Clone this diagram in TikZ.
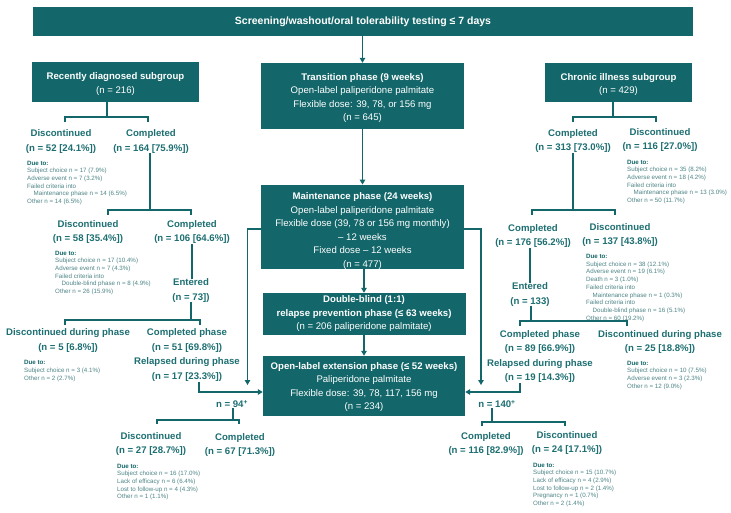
\documentclass[tikz,border=0pt]{standalone}
\usepackage{fontspec}
\setmainfont{Liberation Sans}
\usetikzlibrary{arrows.meta}
\definecolor{teal1}{HTML}{136669}
\definecolor{tealtxt}{HTML}{1D6F72}
\definecolor{duetxt}{HTML}{4F8587}
\newcommand\mydue{{\bfseries\color{teal1}Due to:}}
\begin{document}
\begin{tikzpicture}[x=1pt,y=-1pt,
  box/.style={fill=teal1,text=white,inner sep=0pt,align=center,font=\fontsize{9.6}{13.5}\selectfont},
  lbl/.style={text=tealtxt,inner sep=0pt,align=center,font=\bfseries\fontsize{9.6}{14.3}\selectfont},
  due/.style={text=duetxt,inner sep=0pt,align=left,anchor=north west,font=\fontsize{6.2}{7.6}\selectfont},
  conn/.style={draw=teal1,line width=1.2pt},
  arr/.style={conn,-{Triangle[length=5pt,width=5.5pt]}}]
\useasboundingbox[fill=white] (0,0) rectangle (731,513);

% boxes
\node[box,minimum width=660pt,minimum height=29pt,font=\bfseries\fontsize{10.5}{12}\selectfont] (top) at (363,21.5) {Screening/washout/oral tolerability testing ≤ 7 days};
\node[box,minimum width=167pt,minimum height=40pt] (rd) at (115.5,82) {\rule{0pt}{11pt}\textbf{Recently diagnosed subgroup}\\(n = 216)};
\node[box,minimum width=147pt,minimum height=39pt] (ci) at (618.5,82.5) {\rule{0pt}{10.5pt}\textbf{Chronic illness subgroup}\\(n = 429)};
\node[box,minimum width=203pt,minimum height=66pt] (tr) at (362.5,96) {\rule{0pt}{11pt}\textbf{Transition phase (9 weeks)}\\Open-label paliperidone palmitate\\Flexible dose: 39, 78, or 156 mg\\(n = 645)};
\node[box,minimum width=203pt,minimum height=84pt] (mt) at (362.5,227) {\rule{0pt}{15pt}\textbf{Maintenance phase (24 weeks)}\\Open-label paliperidone palmitate\\Flexible dose (39, 78 or 156 mg monthly)\\– 12 weeks\\Fixed dose – 12 weeks\\(n = 477)};
\node[box,minimum width=203pt,minimum height=42pt] (db) at (364,314) {\textbf{Double-blind (1:1)}\\\textbf{relapse prevention phase (≤ 63 weeks)}\\(n = 206 paliperidone palmitate)};
\node[box,minimum width=202pt,minimum height=60pt] (ole) at (364,386) {\rule{0pt}{9pt}\textbf{Open-label extension phase (≤ 52 weeks)}\\Paliperidone palmitate\\Flexible dose: 39, 78, 117, 156 mg\\(n = 234)};

% left labels
\node[lbl] (l1d) at (61,141.5) {Discontinued\\(n = 52 [24.1\%])};
\node[lbl] (l1c) at (151,141.5) {Completed\\(n = 164 [75.9\%])};
\node[lbl] (l2d) at (88,232) {Discontinued\\(n = 58 [35.4\%])};
\node[lbl] (l2c) at (192,232) {Completed\\(n = 106 [64.6\%])};
\node[lbl] (lent) at (191,290.5) {Entered\\(n = 73])};
\node[lbl] (l3d) at (68,340.5) {Discontinued during phase\\(n = 5 [6.8\%])};
\node[lbl,font=\bfseries\fontsize{9.6}{14.6}\selectfont] (l3c) at (187,355) {Completed phase\\(n = 51 [69.8\%])\\Relapsed during phase\\(n = 17 [23.3\%])};
\node[lbl] (n94) at (232,404) {n = 94\textsuperscript{+}};
\node[lbl] (l4d) at (151,444) {Discontinued\\(n = 27 [28.7\%])};
\node[lbl] (l4c) at (240,445) {Completed\\(n = 67 [71.3\%])};

% right labels
\node[lbl] (r1c) at (573,141) {Completed\\(n = 313 [73.0\%])};
\node[lbl] (r1d) at (660,140) {Discontinued\\(n = 116 [27.0\%])};
\node[lbl] (r2c) at (533,236) {Completed\\(n = 176 [56.2\%])};
\node[lbl] (r2d) at (620,235) {Discontinued\\(n = 137 [43.8\%])};
\node[lbl] (rent) at (530,294.5) {Entered\\(n = 133)};
\node[lbl,font=\bfseries\fontsize{9.6}{14.6}\selectfont] (r3c) at (540,356.5) {Completed phase\\(n = 89 [66.9\%])\\Relapsed during phase\\(n = 19 [14.3\%])};
\node[lbl] (r3d) at (660,342) {Discontinued during phase\\(n = 25 [18.8\%])};
\node[lbl] (n140) at (497,404) {n = 140\textsuperscript{+}};
\node[lbl] (r4c) at (486,444) {Completed\\(n = 116 [82.9\%])};
\node[lbl] (r4d) at (567,443) {Discontinued\\(n = 24 [17.1\%])};

% due-to blocks
\node[due] (l1due) at (27,160.8) {\mydue\\Subject choice n = 17 (7.9\%)\\Adverse event n = 7 (3.2\%)\\Failed criteria into\\\hspace*{6.5pt}Maintenance phase n = 14 (6.5\%)\\Other n = 14 (6.5\%)};
\node[due] (l2due) at (55,250.8) {\mydue\\Subject choice n = 17 (10.4\%)\\Adverse event n = 7 (4.3\%)\\Failed criteria into\\\hspace*{6.5pt}Double-blind phase n = 8 (4.9\%)\\Other n = 26 (15.9\%)};
\node[due] (l3due) at (24,360.5) {\mydue\\Subject choice n = 3 (4.1\%)\\Other n = 2 (2.7\%)};
\node[due] (l4due) at (117,463.8) {\mydue\\Subject choice n = 16 (17.0\%)\\Lack of efficacy n = 6 (6.4\%)\\Lost to follow-up n = 4 (4.3\%)\\Other n = 1 (1.1\%)};
\node[due] (r1due) at (627,159.8) {\mydue\\Subject choice n = 35 (8.2\%)\\Adverse event n = 18 (4.2\%)\\Failed criteria into\\\hspace*{6.5pt}Maintenance phase n = 13 (3.0\%)\\Other n = 50 (11.7\%)};
\node[due,font=\fontsize{6.2}{7.75}\selectfont] (r2due) at (586,254) {\mydue\\Subject choice n = 38 (12.1\%)\\Adverse event n = 19 (6.1\%)\\Death n = 3 (1.0\%)\\Failed criteria into\\\hspace*{6.5pt}Maintenance phase n = 1 (0.3\%)\\Failed criteria into\\\hspace*{6.5pt}Double-blind phase n = 16 (5.1\%)\\Other n = 60 (19.2\%)};
\node[due] (r3due) at (627,360.8) {\mydue\\Subject choice n = 10 (7.5\%)\\Adverse event n = 3 (2.3\%)\\Other n = 12 (9.0\%)};
\node[due] (r4due) at (533,462.8) {\mydue\\Subject choice n = 15 (10.7\%)\\Lack of efficacy n = 4 (2.9\%)\\Lost to follow-up n = 2 (1.4\%)\\Pregnancy n = 1 (0.7\%)\\Other n = 2 (1.4\%)};

% central arrows
\draw[arr] (top.south -| tr.north) -- (tr.north);
\draw[arr] (tr.south) -- (mt.north);
\draw[arr] (mt.south -| db.north) -- (db.north);
\draw[arr] (db.south) -- (ole.north);

% side arrows from maintenance
\coordinate (aL) at (247.5,385);
\coordinate (aR) at (481,385);
\draw[arr] ([yshift=-2pt]mt.west) -| (aL);
\draw[arr] ([yshift=-2pt]mt.east) -| (aR);

% relapsed arrows into OLE
\coordinate (jL) at (199,392);
\coordinate (jR) at (520,392);
\draw[arr] (l3c.south -| jL) -- (jL) -- (jL -| ole.west);
\draw[arr] (r3c.south -| jR) -- (jR) -- (jR -| ole.east);

% left brackets
\coordinate (b1) at (107,117);
\draw[conn] (rd.south -| b1) -- (b1);
\draw[conn] (b1) ++(-42,5) |- ++(83,-5) -- ++(0,5);
\coordinate (b2) at (150,210);
\draw[conn] (l1c.south -| b2) -- (b2);
\draw[conn] (b2) ++(-42,5) |- ++(83,-5) -- ++(0,5);
\draw[conn] (l2c.south) -- (l2c.south |- lent.north);
\coordinate (b3) at (191,320);
\draw[conn] (lent.south -| b3) -- (b3);
\draw[conn] (b3) ++(-126,5) |- ++(135,-5) -- ++(0,5);
\coordinate (b4) at (233,420);
\draw[conn] (n94.south -| b4) -- (b4);
\draw[conn] (b4) ++(-76,4) |- ++(82,-4) -- ++(0,4);

% right brackets
\coordinate (b5) at (613,117);
\draw[conn] (ci.south -| b5) -- (b5);
\draw[conn] (b5) ++(-40,5) |- ++(83,-5) -- ++(0,5);
\coordinate (b6) at (573,210);
\draw[conn] (r1c.south -| b6) -- (b6);
\draw[conn] (b6) ++(-41,5) |- ++(83,-5) -- ++(0,5);
\draw[conn] (r2c.south -| rent.north) -- (rent.north);
\coordinate (b8) at (531,321);
\draw[conn] (rent.south -| b8) -- (b8);
\draw[conn] (b8) ++(-11,5) |- ++(107,-5) -- ++(0,5);
\coordinate (b9) at (492,422);
\draw[conn] (n140.south -| b9) -- (b9);
\draw[conn] (b9) ++(-10,4) |- ++(83,-4) -- ++(0,4);
\end{tikzpicture}
\end{document}
